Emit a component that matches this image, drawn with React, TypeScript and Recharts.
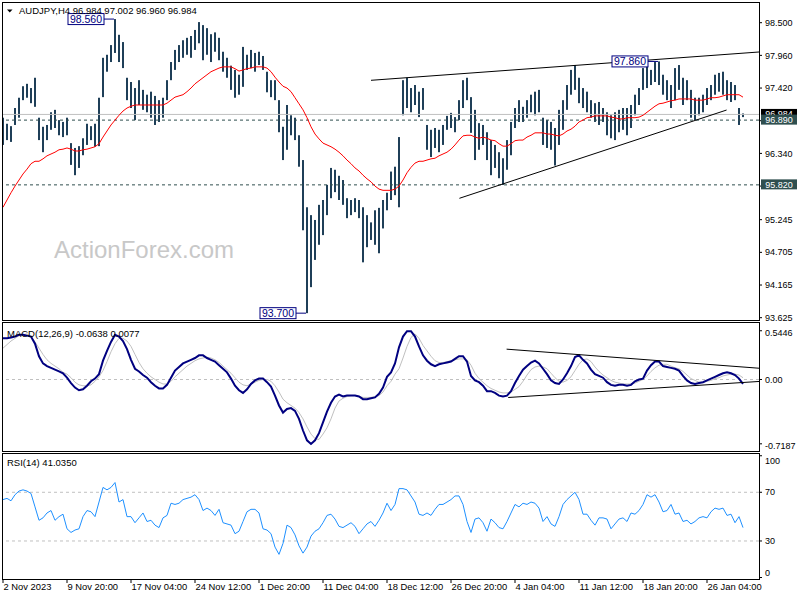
import React from "react";
import {
  ComposedChart,
  Bar,
  Line,
  XAxis,
  YAxis,
  ReferenceLine,
  ReferenceDot,
} from "recharts";

// one point per two H4 bars
const highs = [
  96.93, 96.83, 96.79, 97.09, 97.26, 97.45, 97.49, 97.42, 97.59, 96.93,
  96.78, 96.81, 97.02, 97.06, 96.89, 96.86, 96.93, 96.51, 96.43, 96.46,
  96.59, 96.83, 96.79, 96.83, 97.26, 97.92, 97.97, 98.13, 98.56, 98.3,
  98.18, 97.59, 97.52, 97.42, 97.55, 97.39, 97.31, 97.36, 97.29, 97.22,
  97.26, 97.55, 97.85, 98.05, 98.13, 98.21, 98.25, 98.28, 98.38, 98.51,
  98.46, 98.41, 98.31, 98.34, 98.25, 98.02, 97.92, 97.79, 97.72, 97.64,
  98.1, 97.97, 98.05, 98.0, 98.02, 97.95, 97.69, 97.55, 97.55, 97.22,
  96.78, 97.14, 96.97, 96.93, 96.64, 96.23, 95.45, 95.32, 95.24, 95.49,
  95.57, 95.82, 96.1, 96.07, 95.97, 95.9, 95.6, 95.57, 95.6, 95.57,
  95.45, 95.32, 95.2, 95.4, 95.44, 95.57, 95.69, 96.04, 96.12, 96.61,
  97.55, 97.59, 97.42, 97.47, 97.36, 97.42, 96.81, 96.73, 96.76, 96.73,
  96.81, 96.96, 97.01, 96.94, 97.22, 97.55, 97.59, 97.27, 97.06, 96.84,
  96.81, 96.69, 96.56, 96.48, 96.36, 96.26, 96.56, 96.86, 97.09, 97.22,
  97.11, 97.22, 97.31, 97.36, 97.39, 96.93, 96.89, 96.86, 96.76, 97.06,
  97.22, 97.47, 97.72, 97.8, 97.59, 97.42, 97.36, 97.22, 97.17, 97.19,
  97.09, 97.02, 96.97, 97.02, 97.06, 97.09, 97.09, 97.14, 97.31, 97.42,
  97.75, 97.8, 97.72, 97.85, 97.86, 97.64, 97.55, 97.47, 97.75, 97.8,
  97.59, 97.55, 97.39, 97.26, 97.26, 97.31, 97.42, 97.47, 97.64, 97.67,
  97.69, 97.55, 97.52, 97.47, 97.09, 97.0,
];

const lows = [
  96.48, 96.56, 96.53, 96.81, 96.93, 97.22, 97.26, 97.17, 97.11, 96.56,
  96.36, 96.56, 96.73, 96.76, 96.64, 96.61, 96.64, 96.15, 95.98, 96.1,
  96.31, 96.48, 96.56, 96.45, 96.46, 97.27, 97.69, 97.85, 98.0, 97.85,
  97.75, 97.22, 97.09, 96.89, 97.14, 97.06, 97.02, 96.93, 96.81, 96.86,
  96.93, 97.22, 97.55, 97.72, 97.85, 97.92, 97.97, 97.92, 98.05, 98.16,
  97.88, 97.97, 97.85, 98.02, 97.88, 97.69, 97.59, 97.39, 97.26, 97.31,
  97.44, 97.72, 97.75, 97.69, 97.8, 97.72, 97.35, 97.27, 97.22, 96.69,
  96.23, 96.4, 96.64, 96.56, 96.12, 95.07, 93.7, 94.13, 94.58, 94.83,
  94.99, 95.32, 95.6, 95.7, 95.57, 95.49, 95.27, 95.32, 95.37, 95.27,
  94.54, 94.79, 94.91, 94.83, 94.69, 95.1, 95.4, 95.57, 95.65, 95.45,
  96.97, 97.09, 97.02, 97.14, 96.94, 97.06, 96.4, 96.28, 96.43, 96.36,
  96.48, 96.73, 96.76, 96.69, 96.89, 97.09, 97.22, 96.68, 96.23, 96.4,
  96.48, 96.23, 95.98, 96.1, 95.93, 95.82, 96.07, 96.31, 96.76, 96.86,
  96.86, 96.93, 97.02, 96.97, 97.02, 96.48, 96.43, 96.4, 96.14, 96.48,
  96.73, 97.06, 97.31, 97.39, 97.17, 97.09, 97.02, 96.93, 96.86, 96.81,
  96.86, 96.64, 96.59, 96.56, 96.69, 96.73, 96.64, 96.76, 96.97, 97.14,
  97.39, 97.42, 97.47, 97.52, 97.47, 97.31, 97.22, 97.09, 97.22, 97.39,
  97.14, 97.22, 96.93, 96.89, 96.97, 97.02, 97.14, 97.22, 97.31, 97.36,
  97.31, 97.22, 97.19, 97.22, 96.81, 96.94,
];

const ma = [
  95.45, 95.57, 95.69, 95.8, 95.9, 96.0, 96.08, 96.17, 96.21, 96.21,
  96.25, 96.3, 96.33, 96.36, 96.4, 96.41, 96.43, 96.41, 96.38, 96.38,
  96.4, 96.41, 96.43, 96.45, 96.5, 96.61, 96.71, 96.81, 96.89, 96.97,
  97.04, 97.09, 97.12, 97.14, 97.14, 97.14, 97.14, 97.14, 97.14, 97.14,
  97.14, 97.17, 97.22, 97.27, 97.29, 97.31, 97.36, 97.42, 97.49, 97.54,
  97.59, 97.64, 97.69, 97.72, 97.75, 97.77, 97.77, 97.77, 97.74, 97.7,
  97.72, 97.74, 97.75, 97.77, 97.77, 97.77, 97.75, 97.69, 97.6, 97.52,
  97.45, 97.42, 97.36, 97.26, 97.16, 97.06, 96.93, 96.78, 96.66, 96.58,
  96.51, 96.48, 96.45, 96.41, 96.36, 96.3, 96.23, 96.17, 96.1, 96.05,
  95.98, 95.92, 95.87, 95.8, 95.75, 95.73, 95.73, 95.73, 95.75, 95.8,
  95.9, 96.02, 96.11, 96.18, 96.21, 96.21, 96.23, 96.25, 96.26, 96.3,
  96.33, 96.36, 96.41, 96.48, 96.56, 96.63, 96.64, 96.64, 96.61, 96.59,
  96.61, 96.59, 96.56, 96.55, 96.5, 96.46, 96.46, 96.5, 96.55, 96.56,
  96.56, 96.61, 96.64, 96.68, 96.68, 96.68, 96.66, 96.66, 96.64, 96.63,
  96.66, 96.71, 96.74, 96.79, 96.86, 96.89, 96.93, 96.94, 96.96, 96.96,
  96.96, 96.96, 96.94, 96.93, 96.91, 96.91, 96.93, 96.93, 96.93, 96.94,
  96.97, 97.02, 97.07, 97.12, 97.16, 97.17, 97.19, 97.21, 97.22, 97.24,
  97.24, 97.24, 97.24, 97.22, 97.22, 97.22, 97.24, 97.26, 97.26, 97.27,
  97.29, 97.31, 97.31, 97.31, 97.31, 97.27,
];

const macd = [
  0.46, 0.46, 0.47, 0.48, 0.5, 0.5, 0.49, 0.48, 0.4, 0.26,
  0.18, 0.15, 0.13, 0.11, 0.09, 0.07, 0.02, -0.04, -0.09, -0.12,
  -0.11, -0.07, -0.02, 0.01, 0.06, 0.21, 0.32, 0.42, 0.5, 0.48,
  0.43, 0.34, 0.22, 0.12, 0.09, 0.05, 0.02, -0.03, -0.07, -0.1,
  -0.1, -0.06, 0.02, 0.1, 0.14, 0.18, 0.2, 0.22, 0.24, 0.27,
  0.27, 0.24, 0.22, 0.2, 0.16, 0.12, 0.08, 0.01, -0.07, -0.12,
  -0.15, -0.11, -0.05, -0.01, 0.01, 0.01, -0.03, -0.08, -0.18, -0.29,
  -0.37, -0.33, -0.32, -0.35, -0.44, -0.57, -0.68, -0.72, -0.68, -0.6,
  -0.48, -0.36, -0.26, -0.19, -0.17, -0.19, -0.18, -0.18, -0.18, -0.19,
  -0.22, -0.22, -0.21, -0.2, -0.16, -0.09, 0.03, 0.08, 0.18, 0.36,
  0.48, 0.54, 0.54, 0.48, 0.37, 0.27, 0.21, 0.17, 0.15, 0.17,
  0.18, 0.19, 0.2, 0.23, 0.26, 0.26, 0.2, 0.04, -0.01, -0.03,
  -0.07, -0.13, -0.13, -0.15, -0.18, -0.19, -0.18, -0.13, -0.04, 0.04,
  0.11, 0.15, 0.19, 0.21, 0.18, 0.12, 0.06, -0.01, -0.04, -0.05,
  0.0, 0.07, 0.15, 0.25, 0.27, 0.22, 0.18, 0.11, 0.06, 0.04,
  0.02, -0.03, -0.06, -0.07, -0.06, -0.06, -0.07, -0.06, -0.02, 0.0,
  0.01, 0.1, 0.16, 0.2, 0.2, 0.15, 0.14, 0.13, 0.12, 0.1,
  0.04, -0.01, -0.04, -0.05, -0.04, -0.03, -0.01, 0.01, 0.03, 0.05,
  0.07, 0.08, 0.07, 0.05, 0.01, -0.05,
];

const signal = [
  0.35, 0.39, 0.43, 0.46, 0.49, 0.5, 0.51, 0.48, 0.42, 0.35,
  0.28, 0.22, 0.18, 0.15, 0.12, 0.08, 0.06, 0.02, -0.03, -0.06,
  -0.07, -0.07, -0.06, -0.02, 0.03, 0.1, 0.2, 0.31, 0.4, 0.46,
  0.46, 0.43, 0.37, 0.28, 0.19, 0.12, 0.07, 0.03, 0.0, -0.03,
  -0.05, -0.05, -0.02, 0.03, 0.07, 0.11, 0.15, 0.18, 0.21, 0.23,
  0.24, 0.25, 0.24, 0.22, 0.19, 0.15, 0.11, 0.07, 0.02, -0.03,
  -0.06, -0.07, -0.05, -0.03, -0.01, 0.0, 0.0, -0.02, -0.07, -0.14,
  -0.22, -0.26, -0.29, -0.32, -0.37, -0.44, -0.53, -0.61, -0.66, -0.67,
  -0.61, -0.54, -0.44, -0.32, -0.24, -0.21, -0.19, -0.18, -0.18, -0.19,
  -0.2, -0.2, -0.2, -0.19, -0.18, -0.14, -0.07, -0.02, 0.06, 0.12,
  0.24, 0.37, 0.47, 0.51, 0.46, 0.38, 0.32, 0.26, 0.21, 0.19,
  0.19, 0.2, 0.21, 0.22, 0.23, 0.23, 0.22, 0.16, 0.07, 0.01,
  -0.03, -0.07, -0.1, -0.12, -0.14, -0.15, -0.15, -0.14, -0.11, -0.08,
  -0.02, 0.05, 0.11, 0.14, 0.15, 0.14, 0.12, 0.07, 0.02, -0.02,
  -0.03, -0.01, 0.03, 0.1, 0.17, 0.22, 0.23, 0.2, 0.14, 0.09,
  0.05, 0.02, -0.01, -0.03, -0.04, -0.05, -0.05, -0.05, -0.04, -0.02,
  0.0, 0.04, 0.09, 0.13, 0.16, 0.17, 0.17, 0.15, 0.13, 0.12,
  0.09, 0.05, 0.01, -0.01, -0.03, -0.03, -0.02, -0.01, 0.01, 0.02,
  0.04, 0.05, 0.06, 0.06, 0.05, 0.02,
];

const rsi = [
  64, 65, 63, 68, 71, 72, 71, 69, 58, 47,
  49, 53, 55, 47, 50, 52, 40, 37, 39, 40,
  50, 55, 54, 50, 62, 74, 72, 74, 78, 62,
  64, 50, 50, 45, 49, 53, 46, 47, 43, 41,
  49, 51, 61, 60, 61, 64, 65, 66, 68, 64,
  55, 57, 55, 51, 56, 45, 44, 43, 36, 38,
  46, 54, 56, 56, 53, 40, 39, 36, 25, 19,
  28, 43, 41, 35, 26, 20, 25, 34, 38, 40,
  45, 51, 52, 48, 42, 41, 43, 45, 42, 36,
  40, 44, 46, 42, 47, 53, 61, 55, 60, 73,
  73, 72, 67, 62, 52, 51, 53, 51, 56, 60,
  60, 62, 64, 67, 67, 60, 46, 37, 48, 49,
  45, 38, 48, 45, 41, 40, 46, 53, 60, 58,
  61, 60, 62, 61, 57, 46, 50, 44, 42, 50,
  60, 64, 67, 70, 64, 52, 52, 47, 43, 49,
  49, 48, 40, 44, 48, 49, 46, 53, 52, 55,
  60, 68, 66, 68, 62, 54, 55, 60, 52, 53,
  46, 47, 44, 46, 49, 50, 49, 54, 57, 56,
  57, 51, 52, 45, 50, 41,
];

const dateTicks = [0, 16, 32, 48, 64, 80, 96, 112, 128, 144, 160, 176];
const dateLabels = [
  "2 Nov 2023", "9 Nov 20:00", "17 Nov 04:00", "24 Nov 12:00",
  "1 Dec 20:00", "11 Dec 04:00", "18 Dec 12:00", "26 Dec 20:00",
  "4 Jan 04:00", "11 Jan 12:00", "18 Jan 20:00", "26 Jan 04:00",
];
const priceTicks = [98.5, 97.96, 97.42, 96.88, 96.34, 95.8, 95.245, 94.705, 94.165, 93.625];
const macdTicks = [0.5446, 0, -0.7187];
const rsiTicks = [100, 70, 30, 0];

// drawn trend lines (index, value)
const priceUpper = [{ x: 92, y: 97.548 }, { x: 189, y: 98.016 }];
const priceLower = [{ x: 114.1, y: 95.598 }, { x: 180.9, y: 97.057 }];
const macdUpper = [{ x: 125.9, y: 0.339 }, { x: 189, y: 0.126 }];
const macdLower = [{ x: 126.3, y: -0.201 }, { x: 189, y: -0.022 }];

const FONT = "'Liberation Sans', Arial, sans-serif";
const X_DOMAIN: [number, number] = [-0.25, 189];
const MAIN_DOMAIN: [number, number] = [93.587, 98.842];
const MACD_DOMAIN: [number, number] = [-0.799, 0.6425];
const RSI_DOMAIN: [number, number] = [-1.23, 102.26];
const MAIN_MARGIN = { top: 2, right: 0, bottom: 12, left: 2 };

const rows = highs.map((h, i) => ({
  i,
  hl: [lows[i], h],
  ma: ma[i],
  macd: macd[i],
  signal: signal[i],
  rsi: rsi[i],
}));

function HLBar(props: any) {
  const { x, y, width, height } = props;
  const cx = Math.round(x + width / 2);
  const top = height < 0 ? y + height : y;
  return <rect x={cx - 1} y={top} width={2} height={Math.max(Math.abs(height), 1)} fill="#1f3f58" />;
}

function PriceTick(props: any) {
  const { x, y, payload } = props;
  return (
    <text x={x + 1} y={y} dy="0.35em" textAnchor="start" fontSize={9} fontFamily={FONT} fill="#000">
      {Number(payload.value).toFixed(3)}
    </text>
  );
}

function MacdTick(props: any) {
  const { x, y, payload } = props;
  const v = payload.value;
  const text = v === 0 ? "0.00" : String(v);
  return (
    <text x={x + 1} y={y + (v === 0 ? 0 : 2)} dy="0.35em" textAnchor="start" fontSize={9} fontFamily={FONT} fill="#000">
      {text}
    </text>
  );
}

function RsiTick(props: any) {
  const { x, y, payload } = props;
  const v = payload.value;
  const off = v === 100 ? 5 : v === 0 ? -5 : 0;
  return (
    <text x={x + 1} y={y + off} dy="0.35em" textAnchor="start" fontSize={9} fontFamily={FONT} fill="#000">
      {v}
    </text>
  );
}

function DateTick(props: any) {
  const { x, y, payload } = props;
  const idx = dateTicks.indexOf(payload.value);
  return (
    <text x={x + 0.5} y={y} dy="0.71em" textAnchor="start" fontSize={9.4} fontFamily={FONT} fill="#000">
      {dateLabels[idx]}
    </text>
  );
}

// price boxes on the right axis, drawn over the tick labels
const axisBox = (text: string, fill: string) => (p: any) => {
  const vb = p.viewBox;
  const x = vb.x + vb.width + 2;
  const y = vb.y;
  return (
    <g>
      <rect x={x} y={y - 5.5} width={36} height={10} fill={fill} />
      <text x={x + 18} y={y - 0.5} dy="0.35em" textAnchor="middle" fontSize={9} fontFamily={FONT} fill="#fff">
        {text}
      </text>
    </g>
  );
};

const priceTag = (text: string) => (p: any) => {
  const { cx, cy } = p;
  return (
    <g>
      <line x1={cx - 10} y1={cy} x2={cx} y2={cy} stroke="#000080" />
      <rect x={cx - 46} y={cy - 5.5} width={36} height={11} fill="#fff" stroke="#000080" />
      <text x={cx - 28} y={cy} dy="0.36em" textAnchor="middle" fontSize={10.5} fontFamily={FONT} fill="#000080">
        {text}
      </text>
    </g>
  );
};

const frame = (top: number, height: number): React.CSSProperties => ({
  position: "absolute",
  left: 2,
  top,
  width: 758,
  height,
  border: "1px solid #000",
  boxSizing: "border-box",
  pointerEvents: "none",
});

export default function App() {
  return (
    <div style={{ position: "absolute", left: 0, top: 0, width: 800, height: 600, background: "#fff", overflow: "hidden" }}>
      <svg width={800} height={600} style={{ position: "absolute", left: 0, top: 0 }}>
        <text x={54} y={250} dy="0.35em" fontSize={24} fontFamily={FONT} fill="#c8c8c8">
          ActionForex.com
        </text>
      </svg>

      <div style={{ position: "absolute", left: 0, top: 0 }}>
        <ComposedChart width={800} height={332} data={rows} margin={MAIN_MARGIN}>
          <XAxis dataKey="i" type="number" domain={X_DOMAIN} allowDataOverflow hide />
          <YAxis
            orientation="right"
            width={41}
            domain={MAIN_DOMAIN}
            allowDataOverflow
            ticks={priceTicks}
            interval={0}
            axisLine={false}
            tickLine={{ stroke: "#000" }}
            tickSize={3}
            tick={(p: any) => <PriceTick {...p} />}
          />
          <ReferenceLine y={96.984} stroke="#c0c0c0" />
          <ReferenceLine y={96.89} stroke="#2f4f4f" strokeDasharray="3 3" />
          <ReferenceLine y={95.82} stroke="#2f4f4f" strokeDasharray="3 3" />
          <Bar dataKey="hl" barSize={2} shape={(p: any) => <HLBar {...p} />} isAnimationActive={false} />
          <Line dataKey="ma" stroke="#ff0000" strokeWidth={1} dot={false} isAnimationActive={false} />
          <ReferenceLine segment={priceUpper} stroke="#000" ifOverflow="visible" />
          <ReferenceLine segment={priceLower} stroke="#000" ifOverflow="visible" />
          <ReferenceDot x={27.75} y={98.56} ifOverflow="visible" shape={priceTag("98.560")} />
          <ReferenceDot x={75.75} y={93.7} ifOverflow="visible" shape={priceTag("93.700")} />
          <ReferenceDot x={163.75} y={97.86} ifOverflow="visible" shape={priceTag("97.860")} />
        </ComposedChart>
      </div>

      <div style={{ position: "absolute", left: 0, top: 0 }}>
        <ComposedChart width={800} height={332} data={rows} margin={MAIN_MARGIN}>
          <XAxis dataKey="i" type="number" domain={X_DOMAIN} allowDataOverflow hide />
          <YAxis orientation="right" width={41} domain={MAIN_DOMAIN} allowDataOverflow tick={false} axisLine={false} tickLine={false} />
          <ReferenceLine y={96.984} strokeOpacity={0} label={axisBox("96.984", "#000")} />
          <ReferenceLine y={96.89} strokeOpacity={0} label={axisBox("96.890", "#2f4f4f")} />
          <ReferenceLine y={95.82} strokeOpacity={0} label={axisBox("95.820", "#2f4f4f")} />
        </ComposedChart>
      </div>

      <div style={{ position: "absolute", left: 0, top: 322 }}>
        <ComposedChart width={800} height={129} data={rows} margin={{ top: 0, right: 0, bottom: 0, left: 2 }}>
          <XAxis dataKey="i" type="number" domain={X_DOMAIN} allowDataOverflow hide />
          <YAxis
            orientation="right"
            width={41}
            domain={MACD_DOMAIN}
            allowDataOverflow
            ticks={macdTicks}
            interval={0}
            axisLine={false}
            tickLine={{ stroke: "#000" }}
            tickSize={3}
            tick={(p: any) => <MacdTick {...p} />}
          />
          <ReferenceLine y={0} stroke="#c0c0c0" strokeDasharray="3 3" />
          <Line dataKey="signal" stroke="#c0c0c0" strokeWidth={1} dot={false} isAnimationActive={false} />
          <Line dataKey="macd" stroke="#000080" strokeWidth={2} dot={false} isAnimationActive={false} />
          <ReferenceLine segment={macdUpper} stroke="#000" ifOverflow="visible" />
          <ReferenceLine segment={macdLower} stroke="#000" ifOverflow="visible" />
        </ComposedChart>
      </div>

      <div style={{ position: "absolute", left: 0, top: 453 }}>
        <ComposedChart width={800} height={147} data={rows} margin={{ top: 0, right: 0, bottom: 0, left: 2 }}>
          <XAxis
            dataKey="i"
            type="number"
            domain={X_DOMAIN}
            allowDataOverflow
            ticks={dateTicks}
            interval={0}
            height={21}
            axisLine={false}
            tickLine={{ stroke: "#000" }}
            tickSize={4}
            tickMargin={0}
            tick={(p: any) => <DateTick {...p} />}
          />
          <YAxis
            orientation="right"
            width={41}
            domain={RSI_DOMAIN}
            allowDataOverflow
            ticks={rsiTicks}
            interval={0}
            axisLine={false}
            tickLine={{ stroke: "#000" }}
            tickSize={3}
            tick={(p: any) => <RsiTick {...p} />}
          />
          <ReferenceLine y={70} stroke="#c0c0c0" strokeDasharray="3 3" />
          <ReferenceLine y={30} stroke="#c0c0c0" strokeDasharray="3 3" />
          <Line dataKey="rsi" stroke="#1e90ff" strokeWidth={1} dot={false} isAnimationActive={false} />
        </ComposedChart>
      </div>

      <div style={frame(2, 319)} />
      <div style={frame(322, 130)} />
      <div style={frame(453, 127)} />

      <svg width={800} height={600} style={{ position: "absolute", left: 0, top: 0, pointerEvents: "none" }}>
        <polygon points="7,9.5 12.5,9.5 9.75,12.5" fill="#000" />
        <text x={19} y={10.7} dy="0.35em" fontSize={9.5} fontFamily={FONT} fill="#000">
          AUDJPY,H4 96.984 97.002 96.960 96.984
        </text>
        <text x={7} y={333.7} dy="0.35em" fontSize={9.5} fontFamily={FONT} fill="#000">
          MACD(12,26,9) -0.0638 0.0077
        </text>
        <text x={7} y={462.7} dy="0.35em" fontSize={9.5} fontFamily={FONT} fill="#000">
          RSI(14) 41.0350
        </text>
      </svg>
    </div>
  );
}
